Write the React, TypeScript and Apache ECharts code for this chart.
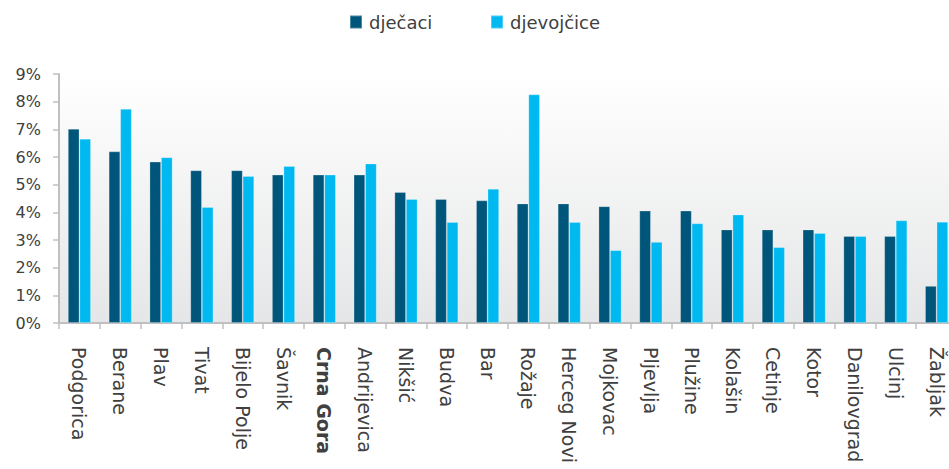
import React, { useEffect, useRef } from "react";
import * as echarts from "echarts";

const categories = [
  "Podgorica", "Berane", "Plav", "Tivat", "Bijelo Polje", "Šavnik", "Crna Gora",
  "Andrijevica", "Nikšić", "Budva", "Bar", "Rožaje", "Herceg Novi", "Mojkovac",
  "Pljevlja", "Plužine", "Kolašin", "Cetinje", "Kotor", "Danilovgrad", "Ulcinj", "Žabljak",
];
const djecaci = [
  7.02, 6.2, 5.83, 5.52, 5.52, 5.36, 5.36, 5.36, 4.73, 4.48, 4.43,
  4.32, 4.32, 4.22, 4.06, 4.06, 3.38, 3.38, 3.38, 3.14, 3.14, 1.34,
];
const djevojcice = [
  6.66, 7.74, 5.99, 4.19, 5.31, 5.67, 5.36, 5.76, 4.48, 3.65, 4.85,
  8.26, 3.65, 2.63, 2.93, 3.6, 3.92, 2.74, 3.25, 3.14, 3.71, 3.66,
];
const seriesNames = ["dječaci", "djevojčice"];
const yTicks = { min: 0, max: 9, interval: 1 };

const FONT = "'DejaVu Sans', 'Liberation Sans', Arial, sans-serif";
const TEXT = "#404040";
const AXIS = "#c0c0c0";

export default function App() {
  const ref = useRef<HTMLDivElement>(null);
  useEffect(() => {
    if (!ref.current) return;
    const chart = echarts.init(ref.current, undefined, { renderer: "svg" });
    const legendBase = {
      top: 13,
      padding: 0,
      itemWidth: 12,
      itemHeight: 13,
      icon: "rect",
      textStyle: { fontSize: 18, color: TEXT, fontFamily: FONT, padding: [0, 0, 0, 2] },
    };
    chart.setOption({
      animation: false,
      textStyle: { fontFamily: FONT },
      legend: [
        { ...legendBase, left: 349, data: [seriesNames[0]] },
        { ...legendBase, left: 490, data: [seriesNames[1]] },
      ],
      grid: {
        left: 59,
        width: 898,
        top: 74,
        bottom: 146,
        outerBoundsMode: "none",
        containLabel: false,
        show: true,
        borderWidth: 0,
        backgroundColor: new echarts.graphic.LinearGradient(0, 0, 0, 1, [
          { offset: 0, color: "#ffffff" },
          { offset: 1, color: "#e5e6e7" },
        ]),
      },
      xAxis: {
        type: "category",
        data: categories,
        axisLine: { lineStyle: { color: AXIS, width: 2 } },
        axisTick: { show: true, length: 6, lineStyle: { color: AXIS, width: 1.5 } },
        axisLabel: {
          rotate: -90,
          interval: 0,
          margin: 24,
          fontSize: 19,
          color: TEXT,
          fontFamily: FONT,
          formatter: (v: string) => (v === "Crna Gora" ? "{b|" + v + "}" : v),
          rich: { b: { fontWeight: "bold", fontSize: 19, color: TEXT, fontFamily: FONT } },
        },
      },
      yAxis: {
        type: "value",
        min: yTicks.min,
        max: yTicks.max,
        interval: yTicks.interval,
        axisLine: { show: true, lineStyle: { color: AXIS, width: 2 } },
        axisTick: { show: true, length: 6, lineStyle: { color: AXIS, width: 1.5 } },
        splitLine: { show: false },
        axisLabel: {
          formatter: "{value}%",
          fontSize: 16,
          color: TEXT,
          margin: 18,
          fontFamily: FONT,
        },
      },
      series: [
        {
          name: seriesNames[0],
          type: "bar",
          data: djecaci,
          barWidth: 11.5,
          barGap: "0%",
          itemStyle: { color: "#00557a", borderColor: "rgba(255,255,255,0.3)", borderWidth: 0.8 },
        },
        {
          name: seriesNames[1],
          type: "bar",
          data: djevojcice,
          barWidth: 11.5,
          barGap: "0%",
          itemStyle: { color: "#00b9f1", borderColor: "rgba(255,255,255,0.3)", borderWidth: 0.8 },
        },
      ],
    });
    return () => chart.dispose();
  }, []);
  return (
    <div
      ref={ref}
      style={{ position: "fixed", left: 0, top: 0, width: 949, height: 469, background: "#ffffff" }}
    />
  );
}
